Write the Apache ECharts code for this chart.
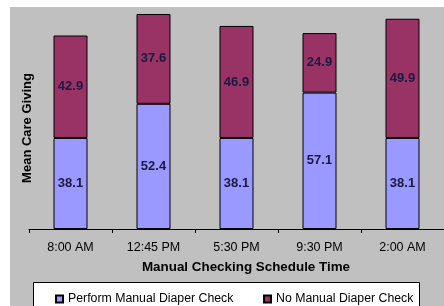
<!DOCTYPE html>
<html><head><meta charset="utf-8">
<script src="https://cdn.jsdelivr.net/npm/echarts@6/dist/echarts.min.js"></script>
<style>html,body{margin:0;padding:0;background:#fff}#c{width:444px;height:306px}</style>
</head><body><div id="c"></div>
<script>
const categories = ['8:00 AM', '12:45 PM', '5:30 PM', '9:30 PM', '2:00 AM'];
const performCheck = [38.1, 52.4, 38.1, 57.1, 38.1];
const noCheck = [42.9, 37.6, 46.9, 24.9, 49.9];
const seriesNames = ['Perform Manual Diaper Check', 'No Manual Diaper Check'];

const FONT = 'Liberation Sans, Arial';
const chart = echarts.init(document.getElementById('c'), null, {renderer: 'canvas'});
const labelStyle = {show: true, position: 'inside', color: '#1a1a40', fontFamily: FONT, fontWeight: 'bold', fontSize: 13, formatter: p => p.value.toFixed(1)};
const legendBase = {top: 288, itemWidth: 7, itemHeight: 7, textStyle: {fontSize: 12.3, color: '#000', fontFamily: FONT}};
chart.setOption({
  animation: false,
  textStyle: {fontFamily: FONT},
  graphic: [
    {type: 'rect', z: -10, silent: true, shape: {x: 10, y: 7, width: 434, height: 299}, style: {fill: '#c0c0c0'}},
    {type: 'rect', z: -5, silent: true, shape: {x: 33.5, y: 282.5, width: 386, height: 30}, style: {fill: '#fff', stroke: '#000', lineWidth: 1}},
    {type: 'text', x: 27.5, y: 128, rotation: Math.PI / 2, style: {text: 'Mean Care Giving', fontFamily: FONT, fontWeight: 'bold', fontSize: 13, fill: '#000', align: 'center', verticalAlign: 'middle'}},
    {type: 'text', x: 246, y: 267, style: {text: 'Manual Checking Schedule Time', fontFamily: FONT, fontWeight: 'bold', fontSize: 13.4, fill: '#000', align: 'center', verticalAlign: 'middle'}}
  ],
  grid: {left: 29, right: -12, top: 14, bottom: 77, containLabel: false},
  legend: [
    Object.assign({left: 50, data: [{name: seriesNames[0], icon: 'rect'}]}, legendBase),
    Object.assign({left: 258, data: [{name: seriesNames[1], icon: 'rect'}]}, legendBase)
  ],
  xAxis: {
    type: 'category', data: categories,
    axisLine: {lineStyle: {color: '#000', width: 1}},
    axisTick: {show: true, length: 4, lineStyle: {color: '#000'}},
    axisLabel: {color: '#000', fontSize: 12.5, margin: 12}
  },
  yAxis: {
    type: 'value', min: 0, max: 90,
    axisLine: {show: false}, axisTick: {show: false}, axisLabel: {show: false}, splitLine: {show: false}
  },
  series: [
    {name: seriesNames[0], type: 'bar', stack: 's', barWidth: 34, data: performCheck,
     itemStyle: {color: '#9999ff', borderColor: '#000', borderWidth: 1}, label: labelStyle},
    {name: seriesNames[1], type: 'bar', stack: 's', barWidth: 34, data: noCheck,
     itemStyle: {color: '#993366', borderColor: '#000', borderWidth: 1}, label: labelStyle}
  ]
});
</script></body></html>
